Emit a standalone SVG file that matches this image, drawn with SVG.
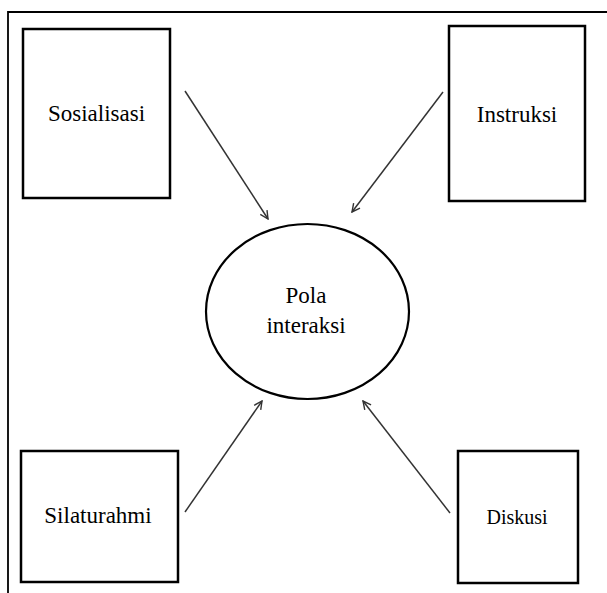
<svg xmlns="http://www.w3.org/2000/svg" width="607" height="593" viewBox="0 0 607 593">
<style>
.box{fill:#fff;stroke:#000;stroke-width:2.5}
.lbl{font-family:"Liberation Serif","Times New Roman",serif;font-size:23px;fill:#000;text-anchor:middle}
.arr{stroke:#333;stroke-width:1.5;fill:none;marker-end:url(#ah)}
</style>
<defs>
<marker id="ah" viewBox="0 0 10 10" refX="9" refY="5" markerWidth="10" markerHeight="10" markerUnits="userSpaceOnUse" orient="auto">
<path d="M1,1 L9,5 L1,9" fill="none" stroke="#333" stroke-width="1.4"/>
</marker>
</defs>
<rect width="607" height="593" fill="#fff"/>
<path d="M8,593 V12 H607" fill="none" stroke="#000" stroke-width="1.8"/>
<g id="sosialisasi"><rect class="box" x="23" y="29" width="147" height="169"/><text class="lbl" x="96.5" y="121">Sosialisasi</text></g>
<g id="instruksi"><rect class="box" x="449" y="26" width="136" height="175"/><text class="lbl" x="517" y="122">Instruksi</text></g>
<g id="silaturahmi"><rect class="box" x="21" y="451" width="157" height="131"/><text class="lbl" x="98" y="523">Silaturahmi</text></g>
<g id="diskusi"><rect class="box" x="458" y="451" width="120" height="132"/><text class="lbl" x="517" y="524" style="font-size:20px">Diskusi</text></g>
<g id="pola"><ellipse cx="307.5" cy="311.5" rx="101.5" ry="87.5" fill="#fff" stroke="#000" stroke-width="2.2"/><text class="lbl" x="306" y="303">Pola</text><text class="lbl" x="306" y="333">interaksi</text></g>
<g id="connectors">
<line class="arr" x1="185" y1="91" x2="268" y2="219"/>
<line class="arr" x1="443" y1="92" x2="352" y2="212"/>
<line class="arr" x1="185" y1="512" x2="262" y2="401"/>
<line class="arr" x1="450" y1="513" x2="363" y2="401"/>
</g>
</svg>
